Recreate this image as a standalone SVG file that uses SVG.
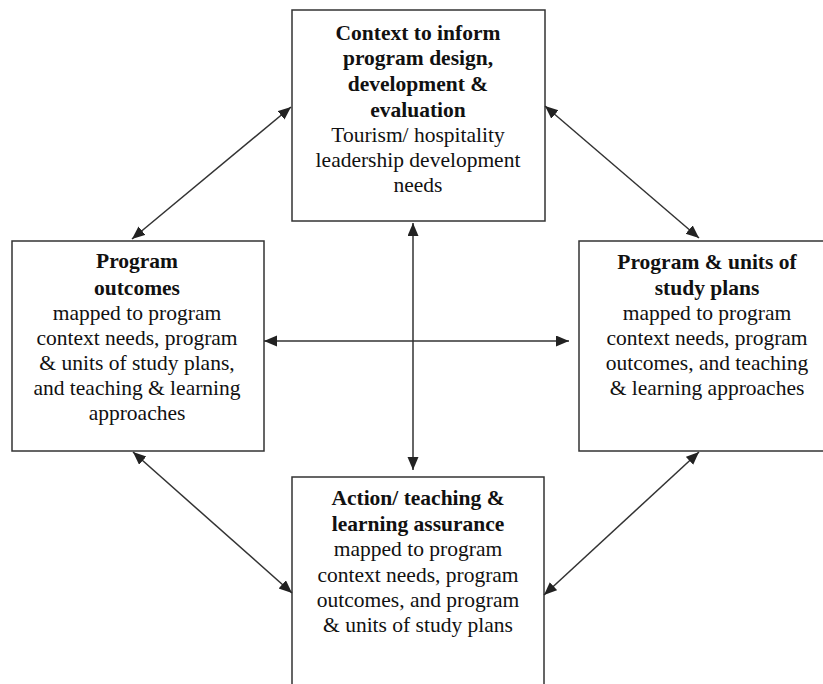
<svg xmlns="http://www.w3.org/2000/svg" width="823" height="684" viewBox="0 0 823 684">
<style>
.box{fill:#fff;stroke:#333;stroke-width:1.5}
text{font-family:"Liberation Serif","Times New Roman",serif;font-size:21.5px;fill:#111;text-anchor:middle}
.b{font-weight:bold}
.c{stroke:#333;stroke-width:1.5;fill:none;marker-start:url(#ah);marker-end:url(#ah)}
</style>
<defs>
<marker id="ah" markerUnits="userSpaceOnUse" markerWidth="14" markerHeight="12" refX="13" refY="5.5" orient="auto-start-reverse">
<path d="M0,0 L13,5.5 L0,11 z" fill="#222"/>
</marker>
</defs>
<rect width="823" height="684" fill="#fff"/>
<g id="context">
<rect class="box" x="292" y="10" width="253" height="211"/>
<text x="418" y="40" class="b">Context to inform</text>
<text x="418" y="65" class="b">program design,</text>
<text x="418" y="91" class="b">development &amp;</text>
<text x="418" y="117" class="b">evaluation</text>
<text x="418" y="142">Tourism/ hospitality</text>
<text x="418" y="167">leadership development</text>
<text x="418" y="192">needs</text>
</g>
<g id="outcomes">
<rect class="box" x="12" y="241" width="252" height="210"/>
<text x="137" y="268" class="b">Program</text>
<text x="137" y="295" class="b">outcomes</text>
<text x="137" y="320">mapped to program</text>
<text x="137" y="345">context needs, program</text>
<text x="137" y="370">&amp; units of study plans,</text>
<text x="137" y="395">and teaching &amp; learning</text>
<text x="137" y="420">approaches</text>
</g>
<g id="plans">
<rect class="box" x="579" y="241" width="260" height="210"/>
<text x="707" y="269" class="b">Program &amp; units of</text>
<text x="707" y="295" class="b">study plans</text>
<text x="707" y="320">mapped to program</text>
<text x="707" y="345">context needs, program</text>
<text x="707" y="370">outcomes, and teaching</text>
<text x="707" y="395">&amp; learning approaches</text>
</g>
<g id="action">
<rect class="box" x="292" y="477" width="252" height="220"/>
<text x="418" y="505" class="b">Action/ teaching &amp;</text>
<text x="418" y="531" class="b">learning assurance</text>
<text x="418" y="556">mapped to program</text>
<text x="418" y="582">context needs, program</text>
<text x="418" y="607">outcomes, and program</text>
<text x="418" y="632">&amp; units of study plans</text>
</g>
<g id="connectors">
<line class="c" x1="132" y1="239" x2="291" y2="107"/>
<line class="c" x1="545" y1="106" x2="699" y2="238"/>
<line class="c" x1="133" y1="452" x2="292" y2="593"/>
<line class="c" x1="544" y1="595" x2="699" y2="452"/>
<line class="c" x1="413" y1="223" x2="413" y2="470"/>
<line class="c" x1="264" y1="341" x2="569" y2="341"/>
</g>
</svg>
